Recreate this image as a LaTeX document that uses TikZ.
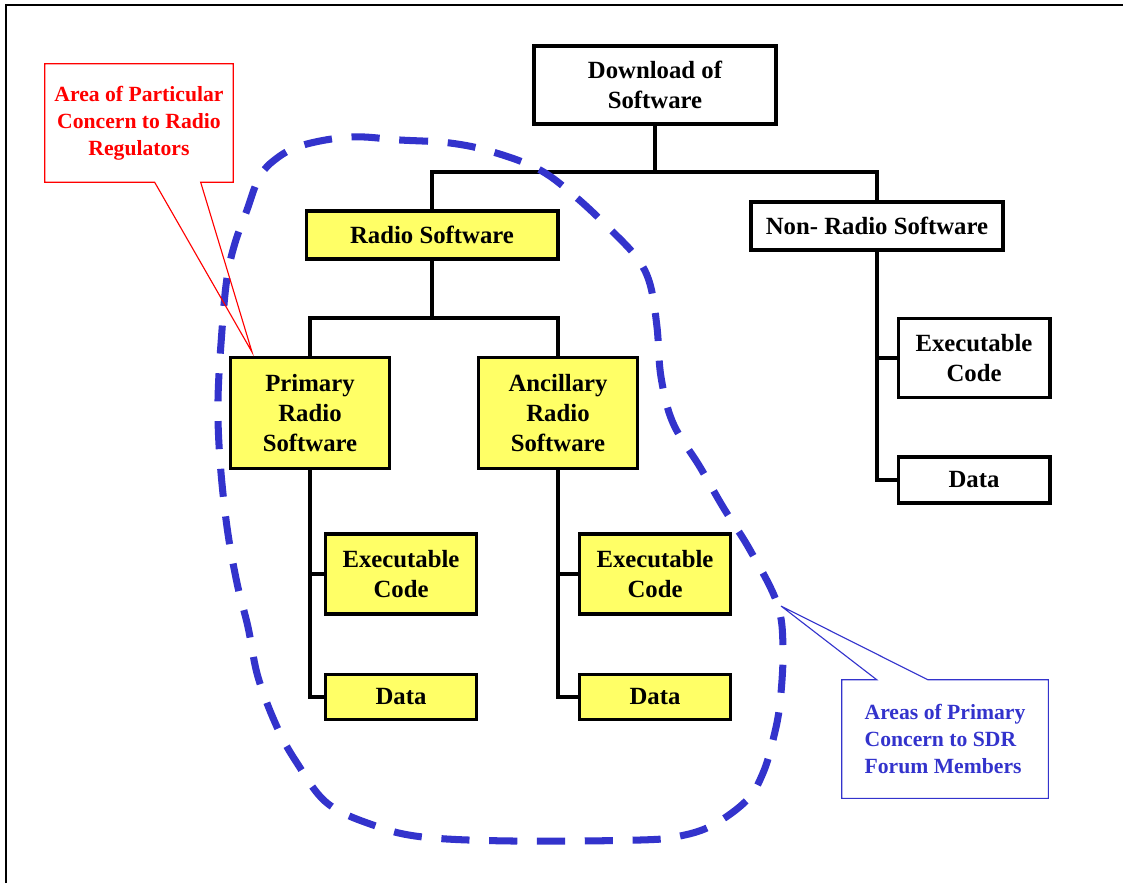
\documentclass[tikz,border=0pt]{standalone}
\usepackage{fontspec}
\setmainfont{Liberation Serif}
\usepackage{xcolor}
\usetikzlibrary{calc}
\definecolor{boxyellow}{HTML}{FFFF66}
\definecolor{sdrblue}{HTML}{3333CC}
\tikzset{
  tree box/.style = {draw, line width=2.8pt, align=center, inner sep=0pt,
    font=\fontsize{17.6}{21.3}\selectfont\bfseries}
}
\tikzset{
  radio box/.style = {tree box, fill=boxyellow}
}
\tikzset{
  tree line/.style = {line width=2.8pt}
}
\tikzset{
  note/.style = {inner sep=0pt, font=\fontsize{15.4}{19.1}\selectfont\bfseries}
}
\tikzset{
  sdr area/.style = {draw=sdrblue, line width=5pt, dash pattern=on 20pt off 14pt}
}

\begin{document}
\begin{tikzpicture}[x=0.025cm, y=-0.025cm]
  \useasboundingbox (0,0) rectangle (1123,883);

  % Frame
  \draw[line width=1.8pt] (6,883) -- (6,5) -- (1123,5);

  % Boxes
  \node[tree box, minimum width=6.05cm, minimum height=1.95cm]
    (download) at (655,85) {Download of\\Software};
  \node[radio box, minimum width=6.275cm, minimum height=1.2cm]
    (radio) at (432,235) {Radio Software};
  \node[tree box, minimum width=6.3cm, minimum height=1.2cm]
    (nonradio) at (877,226) {Non- Radio Software};

  \node[radio box, minimum width=3.975cm, minimum height=2.775cm]
    (primary) at (310,413) {Primary\\Radio\\Software};
  \node[radio box, minimum width=3.975cm, minimum height=2.775cm]
    (ancillary) at (558,413) {Ancillary\\Radio\\Software};

  \node[radio box, minimum width=3.775cm, minimum height=2cm]
    (pexec) at (401,574) {Executable\\Code};
  \node[radio box, minimum width=3.775cm, minimum height=1.125cm]
    (pdata) at (401,697) {Data};
  \node[radio box, minimum width=3.775cm, minimum height=2cm]
    (aexec) at (655,574) {Executable\\Code};
  \node[radio box, minimum width=3.775cm, minimum height=1.125cm]
    (adata) at (655,697) {Data};
  \node[tree box, minimum width=3.775cm, minimum height=1.975cm]
    (nexec) at (974,358) {Executable\\Code};
  \node[tree box, minimum width=3.775cm, minimum height=1.15cm]
    (ndata) at (974,480) {Data};

  % Tree lines
  \coordinate (top hub) at (655,172);
  \coordinate (radio hub) at (432,318);
  \draw[tree line] (download.south) -- (top hub);
  \draw[tree line] (radio.north) |- (top hub) -| (nonradio.north);
  \draw[tree line] (radio.south) -- (radio hub);
  \draw[tree line] (primary.north) |- (radio hub) -| (ancillary.north);
  \draw[tree line] (primary.south) |- (pexec.west);
  \draw[tree line] (primary.south) |- (pdata.west);
  \draw[tree line] (ancillary.south) |- (aexec.west);
  \draw[tree line] (ancillary.south) |- (adata.west);
  \draw[tree line] (nonradio.south) |- (nexec.west);
  \draw[tree line] (nonradio.south) |- (ndata.west);

  % Area of the SDR forum
  \draw[sdr area] plot[smooth cycle, tension=0.6] coordinates {
    (350,137) (400,140) (450,143) (493,152) (540,170) (577,198) (613,232)
    (637,258) (650,284) (657,327) (661,377) (673,423) (700,467) (723,507)
    (750,550) (777,603) (783,647) (780,703) (773,740) (763,773) (747,800)
    (713,825) (680,836) (640,840) (513,841) (423,837) (373,825) (327,803)
    (297,763) (277,727) (258,677) (248,627) (237,583) (227,527) (220,460)
    (218,400) (222,330) (227,278) (235,243) (247,210) (258,180) (272,162)
    (300,146)};

  % Notes
  \node[note, text=red, align=center, minimum width=4.7cm, minimum height=2.95cm]
    (regnote) at (139,123) {Area of Particular\\Concern to Radio\\Regulators};
  \coordinate (regtip) at (252,352);
  \draw[red, line width=0.8pt] ($(regnote.south west)+(110,0)$)
    -- (regnote.south west) -- (regnote.north west) -- (regnote.north east)
    -- (regnote.south east) -- ($(regnote.south west)+(156,0)$)
    -- (regtip) -- cycle;

  \node[note, text=sdrblue, align=left,
    minimum width=5.15cm, minimum height=2.95cm]
    (sdrnote) at (945,739) {Areas of Primary\\Concern to SDR\\Forum Members};
  \coordinate (sdrtip) at (781,606);
  \draw[sdrblue, line width=0.8pt] ($(sdrnote.north west)+(35,0)$)
    -- (sdrnote.north west) -- (sdrnote.south west) -- (sdrnote.south east)
    -- (sdrnote.north east) -- ($(sdrnote.north west)+(86,0)$)
    -- (sdrtip) -- cycle;
\end{tikzpicture}
\end{document}
